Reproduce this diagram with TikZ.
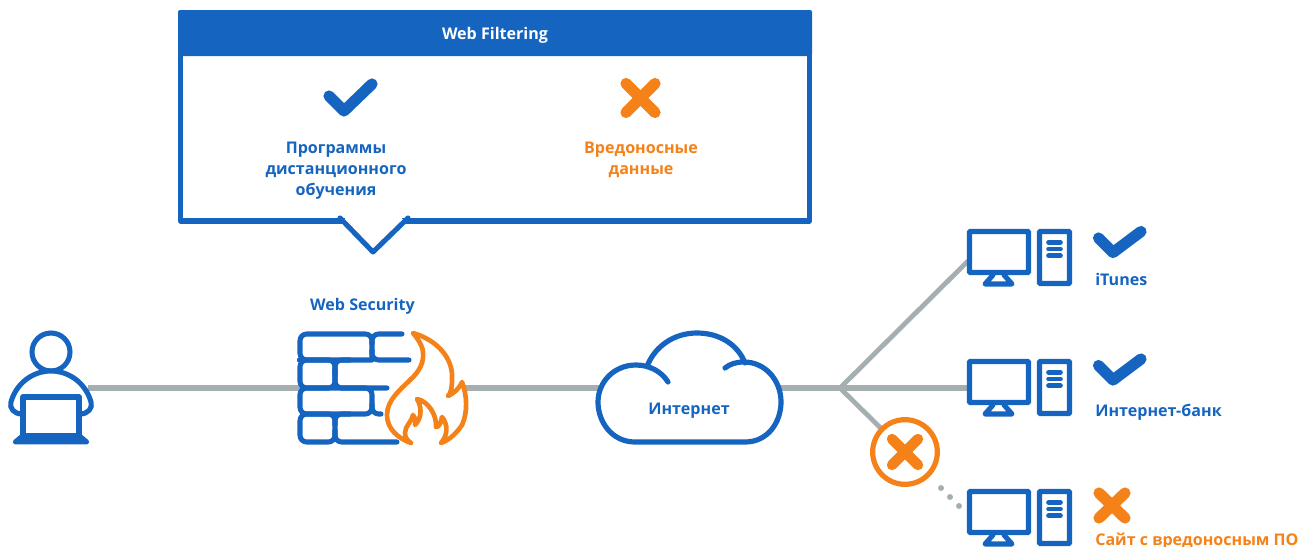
\documentclass[tikz,border=0pt]{standalone}
\usepackage{fontspec}
\setmainfont{Open Sans}
\definecolor{kblue}{HTML}{1565C0}
\definecolor{korange}{HTML}{F58219}
\definecolor{kgray}{HTML}{A5AEB1}
\tikzset{
  x=0.75pt,y=-0.75pt,
  wire/.style={draw=kgray,line width=3.9pt},
  bluel/.style={draw=kblue,line width=3.8pt,line join=round,line cap=round},
  orangel/.style={draw=korange,line width=3.5pt,line join=round,line cap=round},
  mark blue/.style={draw=kblue,line width=8.4pt,line cap=round,line join=round},
  mark orange/.style={draw=korange,line width=8.4pt,line cap=round,line join=round},
  lblue/.style={text=kblue,font=\bfseries\fontsize{12.05pt}{15.75pt}\selectfont,inner sep=0pt,align=center},
  lorange/.style={text=korange,font=\bfseries\fontsize{12.05pt}{15.75pt}\selectfont,inner sep=0pt,align=center},
  lwhite/.style={text=white,font=\bfseries\fontsize{12.05pt}{15.75pt}\selectfont,inner sep=0pt,align=center},
  pc/.pic={
    \draw[draw=kblue,line width=3.9pt,rounded corners=0.6pt] (969.5,231.5) rectangle (1028.5,272.5);
    \draw[draw=kblue,line width=3.8pt,line join=round,line cap=round] (993,275) -- (985,284) -- (1012,284) -- (1004,275);
    \draw[draw=kblue,line width=3.9pt,rounded corners=0.6pt] (1039.5,231.5) rectangle (1069.5,283.5);
    \draw[draw=kblue,line width=3.5pt,line cap=round] (1048.5,242.3) -- (1060.5,242.3);
    \draw[draw=kblue,line width=3.5pt,line cap=round] (1048.5,249) -- (1060.5,249);
    \draw[draw=kblue,line width=3.5pt,line cap=round] (1048.5,255.7) -- (1060.5,255.7);
  },
}
\begin{document}
\begin{tikzpicture}
\useasboundingbox (0,0) rectangle (1305,546);
\clip (0,0) rectangle (1305,546);
\coordinate (userport) at (88,388);
\coordinate (wallport) at (300,388);
\coordinate (flameport) at (465,388);
\coordinate (cloudL) at (600,388);
\coordinate (cloudR) at (780,388);
\coordinate (hub) at (840,388);
\coordinate (pcA) at (968,261);
\coordinate (pcB) at (968,388);
\coordinate (stop) at (905,452);
% wires
\draw[wire] (userport) -- (wallport);
\draw[wire] (flameport) -- (cloudL);
\draw[wire] (cloudR) -- (hub);
\draw[wire] (hub) -- (pcB);
\draw[wire,line width=3.6pt] (hub) -- (pcA);
\draw[wire,line width=3.6pt] (hub) -- (stop);
% panel
\draw[kblue,line width=3.9pt,line join=round,fill=white] (180.5,50) -- (180.5,221) -- (809.5,221) -- (809.5,50);
\fill[kblue,rounded corners=1.5pt] (178,10) rectangle (812,56);
\fill[white] (342,219) -- (373,250) -- (405,219) -- cycle;
\fill[white] (345,215) rectangle (402,224);
\draw[bluel] (340,218) -- (373,252) -- (408,218);
\node[lwhite] (title) at (495,35) {Web Filtering};
\draw[mark blue] (329,96) -- (344,111) -- (372,84);
\draw[mark orange] (626,83.5) -- (655,112.5);
\draw[mark orange] (626,112.5) -- (655,83.5);
\node[lblue] (prog) at (336,170.5) {Программы\\дистанционного\\обучения};
\node[lorange] (bad) at (641,159.5) {Вредоносные\\данные};
\node[lblue] (websec) at (362.5,306) {Web Security};
% user
\fill[white] (51,352) circle (19);
\draw[bluel] (51,352) circle (19);
\draw[bluel,fill=white] (22,414) .. controls (14,414) and (9,408) .. (11,402)
  .. controls (16,384) and (32,371) .. (51,371)
  .. controls (70,371) and (86,384) .. (91,402)
  .. controls (93,408) and (88,414) .. (80,414);
\draw[draw=kblue,line width=3.8pt,line join=round,fill=white] (23,397) rectangle (79,436);
\draw[draw=kblue,line width=3.4pt,line join=round,line cap=round,fill=kblue] (22,436) -- (15,442) -- (87,442) -- (80,436) -- cycle;
% wall
\begin{scope}[bluel,rounded corners=5pt]
\draw (372,360) -- (306,360) -- (300,360) -- (300,334) -- (372,334) -- (372,360);
\draw (372,344) -- (372,334) -- (402,334);
\draw (372,350) -- (372,360) -- (409,360);
\draw (300,360) -- (300,388) -- (335,388) -- (335,360) -- cycle;
\draw (335,370) -- (335,388) -- (387,388);
\draw (335,375) -- (335,360) -- (350,360);
\draw (300,388) -- (300,414) -- (372,414) -- (372,388) -- cycle;
\draw (372,404) -- (372,414) -- (381,414);
\draw (300,414) -- (300,442) -- (335,442) -- (335,414) -- cycle;
\draw (335,430) -- (335,442) -- (397,442);
\draw (335,425) -- (335,414) -- (350,414);
\end{scope}
% flame
\draw[orangel,fill=white] (413,333)
  .. controls (437,340) and (453,358) .. (452,378)
  .. controls (452,388) and (451,393) .. (448,396)
  .. controls (454,393) and (459,389) .. (462,382)
  .. controls (467,395) and (468,412) .. (462,425)
  .. controls (456,434) and (449,440) .. (441,443)
  .. controls (447,436) and (449,426) .. (442,417)
  .. controls (441,423) and (439,427) .. (436,427)
  .. controls (437,415) and (428,401) .. (417,399)
  .. controls (421,405) and (423,417) .. (415,425)
  .. controls (416,420) and (415,417) .. (413,415)
  .. controls (411,423) and (405,426) .. (405,433)
  .. controls (405,438) and (408,441) .. (411,443)
  .. controls (397,438) and (387,428) .. (387,415)
  .. controls (387,400) and (400,390) .. (410,380)
  .. controls (420,371) and (424,362) .. (423,352)
  .. controls (422,344) and (417,338) .. (413,333) -- cycle;
% cloud
\draw[draw=kblue,line width=3.9pt,line join=round,line cap=round,fill=white]
  (635,442) -- (745,442)
  .. controls (768,442) and (781,422) .. (781,402)
  .. controls (781,380) and (765,362) .. (744,362)
  .. controls (736,362) and (730,364) .. (725,368)
  (745,363) .. controls (738,345) and (720,333) .. (697,333)
  .. controls (674,333) and (656,346) .. (648,364)
  (635,442) .. controls (612,442) and (598,422) .. (598,402)
  .. controls (598,382) and (614,365) .. (636,365)
  .. controls (650,365) and (662,372) .. (668,382);
\node[lblue] (net) at (689,411) {Интернет};
% computers
\pic {pc};
\pic[yshift=-97.5pt] {pc};
\pic[yshift=-195pt] {pc};
\draw[mark blue] (1098.5,238) -- (1113,252.5) -- (1141,231.5);
\draw[mark blue] (1098.5,365.5) -- (1113,380) -- (1141,359);
\draw[mark orange] (1099,493) -- (1125,518);
\draw[mark orange] (1099,518) -- (1125,493);
\node[lblue,anchor=west] (itunes) at (1095,279) {iTunes};
\node[lblue,anchor=west] (bank) at (1095,412) {Интернет-банк};
\node[lorange,anchor=west] (mal) at (1095,541.5) {Сайт с вредоносным ПО};
% stop sign
\node[draw=korange,line width=3.9pt,fill=white,circle,minimum size=48.5pt,inner sep=0pt] (stopsign) at (stop) {};
\draw[mark orange,line width=7.8pt] (892,439) -- (918,465);
\draw[mark orange,line width=7.8pt] (892,465) -- (918,439);
\fill[kgray] (941,488) circle (3) (950,497) circle (3) (959,506) circle (3);
\end{tikzpicture}
\end{document}
